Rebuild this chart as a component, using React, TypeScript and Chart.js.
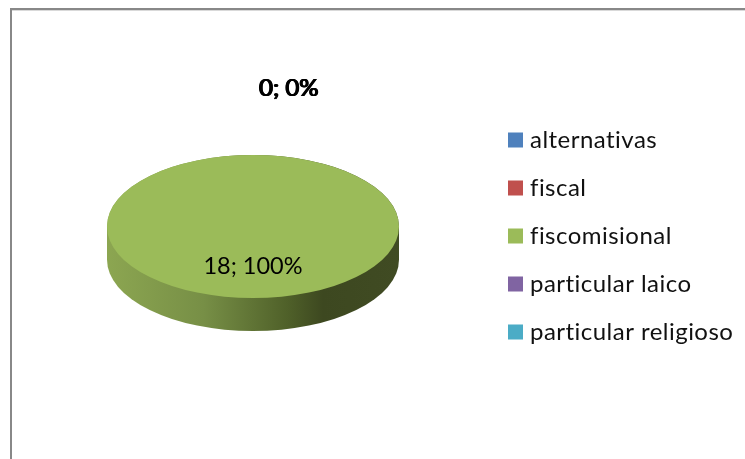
import React, { useEffect, useRef } from "react";
import { Chart, registerables } from "chart.js";

Chart.register(...registerables);

const categories = ["alternativas", "fiscal", "fiscomisional", "particular laico", "particular religioso"];
const values = [0, 0, 18, 0, 0];
const colors = ["#4F81BD", "#C0504D", "#9BBB59", "#8064A2", "#4BACC6"];

const PIE_CX = 253;
const PIE_CY = 226.5;
const SQUASH = 0.49;
const DEPTH = 33;
const FONT = "Lato, Carlito, Calibri, sans-serif";
const LEGEND_LEFT = 489;

const piePlugin = {
  id: "pie3d",
  beforeDraw(chart: any) {
    const { ctx, width, height } = chart;
    ctx.save();
    ctx.fillStyle = "#ffffff";
    ctx.fillRect(0, 0, width, height);
    ctx.fillStyle = "#d9d9d9";
    ctx.fillRect(12, 10, width - 12, 1);
    ctx.fillStyle = "#888888";
    ctx.fillRect(10, 8, width - 10, 2);
    ctx.fillRect(10, 8, 2, height - 8);
    ctx.restore();
    // A small tracking matches the legend's width and turns off Lato's ligatures.
    ctx.letterSpacing = "0.47px";
  },
  afterLayout(chart: any) {
    const lg = chart.legend;
    const w = lg.right - lg.left;
    lg.left = LEGEND_LEFT;
    lg.right = LEGEND_LEFT + w;
  },
  beforeDatasetsDraw(chart: any) {
    const { ctx } = chart;
    const arc = chart.getDatasetMeta(0).data[2];
    const r = arc.outerRadius;
    const ry = r * SQUASH;
    const g = ctx.createLinearGradient(PIE_CX - r, 0, PIE_CX + r, 0);
    g.addColorStop(0, "#8CA651");
    g.addColorStop(0.33, "#778F46");
    g.addColorStop(0.62, "#4F6029");
    g.addColorStop(0.74, "#3D4820");
    g.addColorStop(1, "#404B23");
    ctx.save();
    ctx.fillStyle = g;
    ctx.beginPath();
    ctx.ellipse(PIE_CX, PIE_CY, r, ry, 0, Math.PI, 0, false);
    ctx.lineTo(PIE_CX + r, PIE_CY + DEPTH);
    ctx.ellipse(PIE_CX, PIE_CY + DEPTH, r, ry, 0, 0, Math.PI, false);
    ctx.closePath();
    ctx.fill();
    ctx.restore();
    ctx.save();
    ctx.translate(PIE_CX, PIE_CY);
    ctx.scale(1, SQUASH);
    ctx.translate(-arc.x, -arc.y);
  },
  afterDatasetsDraw(chart: any) {
    const { ctx } = chart;
    ctx.restore();
    const meta = chart.getDatasetMeta(0);
    const total = values.reduce((a, b) => a + b, 0);
    ctx.save();
    ctx.letterSpacing = "0px";
    ctx.fillStyle = "#000000";
    ctx.textAlign = "center";
    ctx.textBaseline = "middle";
    values.forEach((v, i) => {
      const text = `${v}; ${Math.round((v / total) * 100)}%`;
      const arc = meta.data[i];
      if (v > 0) {
        ctx.font = `23.5px ${FONT}`;
        const mid = (arc.startAngle + arc.endAngle) / 2;
        const d = arc.outerRadius * 0.55;
        ctx.fillText(text, PIE_CX + Math.cos(mid) * d, PIE_CY + Math.sin(mid) * d * SQUASH + 1);
      } else {
        ctx.font = `24px ${FONT}`;
        ctx.fillText(text, 288.8 + (i - 2) * 0.35, 88);
      }
    });
    ctx.restore();
  },
};

export default function App() {
  const ref = useRef<HTMLCanvasElement>(null);
  useEffect(() => {
    const chart = new Chart(ref.current as HTMLCanvasElement, {
      type: "pie",
      data: {
        labels: categories,
        datasets: [{ data: values, backgroundColor: colors, borderWidth: 0 }],
      },
      plugins: [piePlugin],
      options: {
        responsive: false,
        animation: false,
        layout: { padding: { left: 107, top: 90, bottom: 77, right: 0 } },
        plugins: {
          tooltip: { enabled: false },
          legend: {
            position: "right",
            align: "center",
            labels: {
              usePointStyle: true,
              pointStyle: "rect",
              boxWidth: 5,
              boxHeight: 15,
              padding: 24,
              color: "#111111",
              font: { family: FONT, size: 24, lineHeight: 1 },
            },
          },
        },
      },
    } as any);
    return () => chart.destroy();
  }, []);
  return (
    <canvas
      ref={ref}
      width={745}
      height={459}
      style={{ position: "absolute", left: 0, top: 0, width: 745, height: 459 }}
    />
  );
}
